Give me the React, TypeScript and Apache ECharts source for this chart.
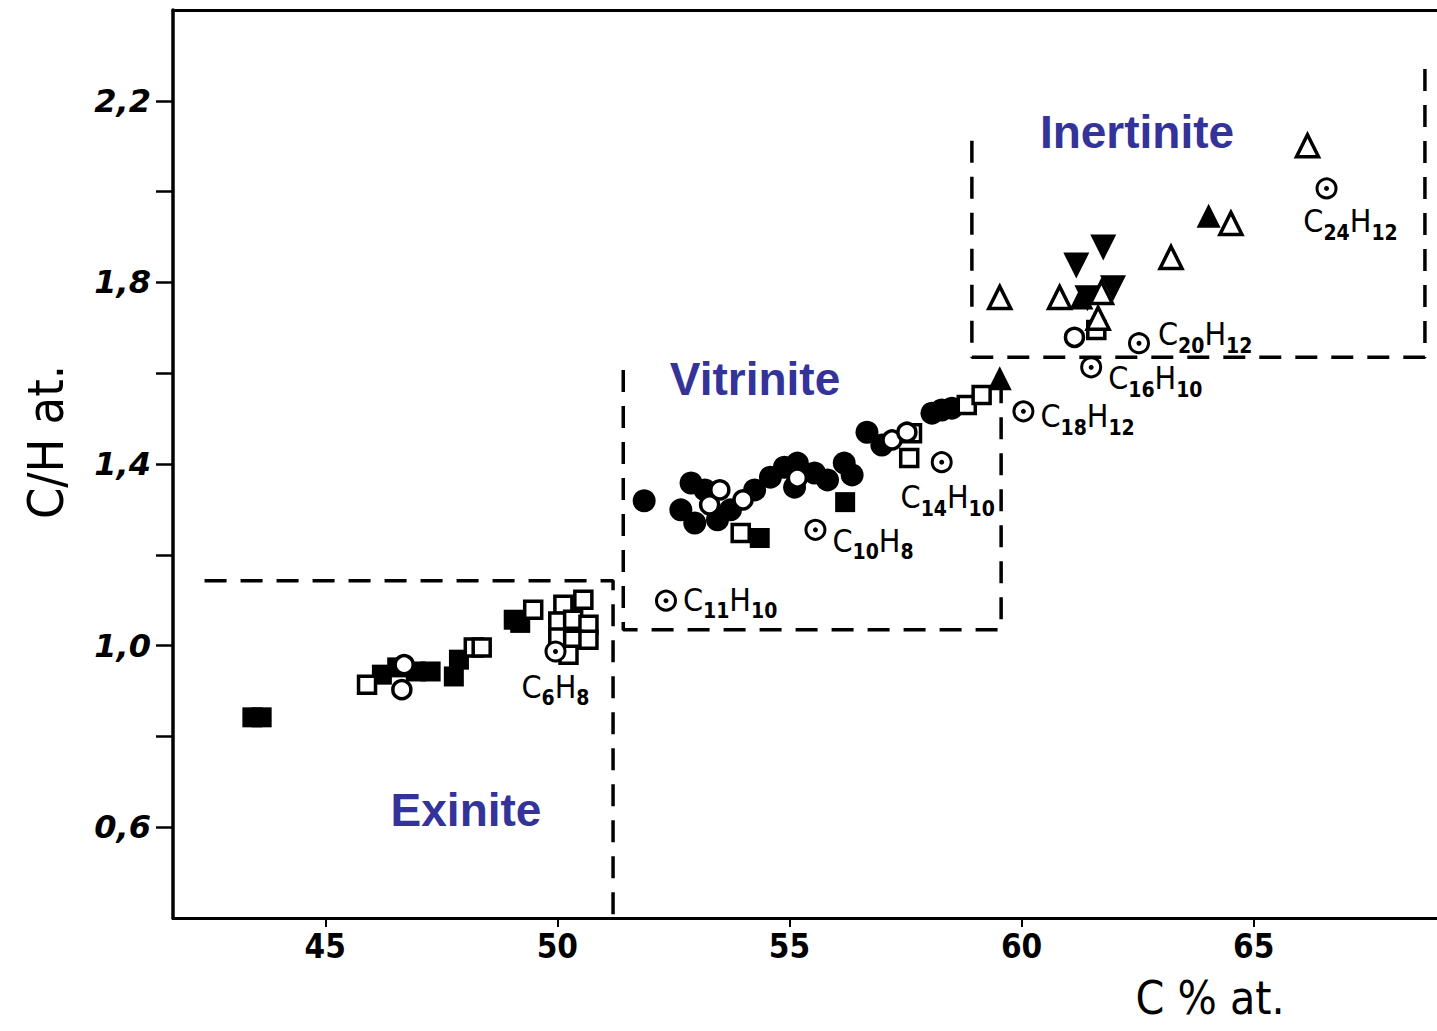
import React, { useEffect, useRef } from "react";
import * as echarts from "echarts";

// ---- data (C % at., C/H at.) ----
const filledSquares: number[][] = [
  [43.43, 0.842], [43.63, 0.842], [46.22, 0.936], [46.55, 0.952], [46.95, 0.943],
  [47.27, 0.943], [47.77, 0.932], [47.88, 0.969], [49.06, 1.057], [49.2, 1.05],
  [54.36, 1.237], [56.2, 1.316],
];
const openSquares: number[][] = [
  [45.9, 0.914], [48.2, 0.996], [48.37, 0.996], [49.48, 1.079],
  [50.13, 1.09], [50.56, 1.101], [50.02, 1.053], [50.34, 1.057], [50.67, 1.046],
  [50.02, 1.018], [50.34, 1.013], [50.67, 1.013], [50.24, 0.98],
  [53.95, 1.248], [57.58, 1.413], [57.64, 1.468], [58.82, 1.53], [59.14, 1.552],
  [61.61, 1.695],
];
const filledCircles: number[][] = [
  [51.87, 1.319], [52.88, 1.358], [52.66, 1.299], [53.18, 1.343], [52.96, 1.27],
  [53.45, 1.277], [53.73, 1.299], [54.25, 1.343], [54.59, 1.371], [54.89, 1.393],
  [55.17, 1.402], [55.11, 1.349], [55.54, 1.38], [55.82, 1.365], [56.18, 1.402],
  [56.35, 1.376], [56.67, 1.47], [56.99, 1.442], [58.07, 1.512], [58.28, 1.519],
  [58.5, 1.523],
];
const openCircles: number[][] = [
  [46.65, 0.903], [46.7, 0.958], [53.28, 1.31], [53.5, 1.343], [54.0, 1.321],
  [55.17, 1.369], [57.21, 1.453], [57.53, 1.47], [61.14, 1.679],
];
const filledTriangles: number[][] = [
  [59.53, 1.589], [61.29, 1.767], [64.03, 1.947],
];
const openTriangles: number[][] = [
  [59.53, 1.767], [60.82, 1.767], [61.72, 1.778], [61.65, 1.721], [63.22, 1.855],
  [64.51, 1.93], [66.16, 2.101],
];
const invertedTriangles: number[][] = [
  [61.76, 1.877], [61.18, 1.837], [61.97, 1.787], [61.42, 1.765],
];
// reference hydrocarbons
const refNames = ["C6H8", "C11H10", "C10H8", "C14H10", "C18H12", "C16H10", "C20H12", "C24H12"];
const refX = [49.96, 52.34, 55.56, 58.28, 60.04, 61.5, 62.53, 66.57];
const refY = [0.987, 1.099, 1.255, 1.404, 1.516, 1.613, 1.666, 2.007];

// maceral field boundaries (dashed)
const exiniteBox: number[][] = [[42.4, 1.143], [51.2, 1.143], [51.2, 0.4]];
const vitriniteBox: number[][] = [[51.42, 1.607], [51.42, 1.035], [59.56, 1.035], [59.56, 1.58]];
const inertiniteBox: number[][] = [[58.93, 2.112], [58.93, 1.635], [68.69, 1.635], [68.69, 2.277]];

const xTickValues = [45, 50, 55, 60, 65];
const yTickValues = [0.6, 0.8, 1.0, 1.2, 1.4, 1.6, 1.8, 2.0, 2.2];
const yLabelValues = [0.6, 1.0, 1.4, 1.8, 2.2];

const fieldNames = ["Inertinite", "Vitrinite", "Exinite"];

// label placement for the reference compounds (style only)
const refLabelPlacement: Record<string, { position: string; offset: number[] }> = {
  C6H8: { position: "bottom", offset: [0, 2] },
  C11H10: { position: "right", offset: [0, 2] },
  C10H8: { position: "right", offset: [0, 14] },
  C14H10: { position: "bottom", offset: [6, 2] },
  C18H12: { position: "right", offset: [0, 8] },
  C16H10: { position: "right", offset: [0, 14] },
  C20H12: { position: "right", offset: [2, -6] },
  C24H12: { position: "bottom", offset: [24, 0] },
};

function toRich(formula: string): string {
  return formula.replace(/([A-Z][a-z]?)|(\d+)/g, (m, el, num) =>
    el ? `{c|${el}}` : `{s|${num}}`
  );
}

const HAND = "'DejaVu Sans Condensed', 'DejaVu Sans', sans-serif";

export default function App() {
  const ref = useRef<HTMLDivElement>(null);
  useEffect(() => {
    if (!ref.current) return;
    const chart = echarts.init(ref.current, undefined, { renderer: "svg" });

    const dashed = { color: "#000", width: 3.5, type: [22, 14] as any };
    const boxSeries = [exiniteBox, vitriniteBox, inertiniteBox].map((d) => ({
      type: "line",
      data: d,
      symbol: "none",
      silent: true,
      lineStyle: dashed,
      z: 1,
    }));

    const refData = refNames.map((n, i) => ({
      value: [refX[i], refY[i]],
      name: n,
      label: {
        position: refLabelPlacement[n].position,
        offset: refLabelPlacement[n].offset,
        distance: 6,
      },
    }));

    const openStyle = { color: "#fff", borderColor: "#000", borderWidth: 3.5, opacity: 1 };
    const filledStyle = { color: "#000", opacity: 1 };

    chart.setOption({
      animation: false,
      backgroundColor: "#fff",
      grid: { left: 173, right: 0, top: 10, bottom: 113, containLabel: false },
      xAxis: [
        {
          type: "value",
          min: 41.72,
          max: 68.95,
          axisLine: { show: true, lineStyle: { color: "#000", width: 3 } },
          axisTick: {
            show: true,
            inside: false,
            length: 9,
            lineStyle: { color: "#000", width: 2 },
            customValues: xTickValues,
          },
          axisLabel: {
            customValues: xTickValues,
            color: "#000",
            fontSize: 33,
            fontFamily: HAND,
            fontWeight: "bold",
            margin: 12,
          },
          splitLine: { show: false },
        },
        {
          type: "value",
          position: "top",
          min: 41.72,
          max: 68.95,
          axisLine: { show: true, lineStyle: { color: "#000", width: 3 } },
          axisTick: { show: false },
          axisLabel: { show: false },
          splitLine: { show: false },
        },
      ],
      yAxis: {
        type: "value",
        min: 0.4,
        max: 2.4,
        interval: 0.2,
        axisLine: { show: true, lineStyle: { color: "#000", width: 3.5 } },
        axisTick: {
          show: true,
          length: 17,
          lineStyle: { color: "#000", width: 2.5 },
          customValues: yTickValues,
        },
        axisLabel: {
          customValues: yLabelValues,
          formatter: (v: number) => v.toFixed(1).replace(".", ","),
          color: "#000",
          fontSize: 32,
          fontWeight: "bold",
          fontStyle: "italic",
          fontFamily: "'DejaVu Sans', sans-serif",
          margin: 22,
        },
        splitLine: { show: false },
      },
      series: [
        ...boxSeries,
        { type: "scatter", name: "filledSquares", data: filledSquares, symbol: "rect", symbolSize: 20, itemStyle: filledStyle, z: 3 },
        { type: "scatter", name: "filledCircles", data: filledCircles, symbol: "circle", symbolSize: 23, itemStyle: filledStyle, z: 3 },
        { type: "scatter", name: "filledTriangles", data: filledTriangles, symbol: "triangle", symbolSize: 24, itemStyle: filledStyle, z: 3 },
        { type: "scatter", name: "invertedTriangles", data: invertedTriangles, symbol: "triangle", symbolRotate: 180, symbolSize: 26, itemStyle: filledStyle, z: 3 },
        { type: "scatter", name: "openSquares", data: openSquares, symbol: "rect", symbolSize: 17, itemStyle: openStyle, z: 4 },
        { type: "scatter", name: "openCircles", data: openCircles, symbol: "circle", symbolSize: 18, itemStyle: openStyle, z: 4 },
        { type: "scatter", name: "openTriangles", data: openTriangles, symbol: "triangle", symbolSize: 22, itemStyle: openStyle, z: 4 },
        {
          type: "scatter",
          name: "references",
          data: refData,
          symbol: "circle",
          symbolSize: 19,
          itemStyle: { color: "#fff", borderColor: "#000", borderWidth: 3, opacity: 1 },
          z: 5,
          label: {
            show: true,
            formatter: (p: any) => toRich(p.name),
            color: "#000",
            rich: {
              c: { fontSize: 32, fontFamily: HAND, color: "#000", padding: [0, 0, 6, 0], verticalAlign: "bottom" },
              s: { fontSize: 21, fontFamily: HAND, color: "#000", fontWeight: "bold", verticalAlign: "bottom" },
            },
          },
        },
        {
          type: "scatter",
          name: "referenceDots",
          data: refNames.map((n, i) => [refX[i], refY[i]]),
          symbol: "circle",
          symbolSize: 5,
          itemStyle: filledStyle,
          z: 6,
          silent: true,
        },
      ],
      graphic: [
        {
          type: "text",
          x: 46,
          y: 442,
          rotation: Math.PI / 2,
          style: {
            text: "C/H at.",
            fontSize: 50,
            fontFamily: HAND,
            fill: "#000",
            align: "center",
            verticalAlign: "middle",
          },
        },
        {
          type: "text",
          x: 1210,
          y: 998,
          style: {
            text: "C % at.",
            fontSize: 46,
            fontFamily: HAND,
            fill: "#000",
            align: "center",
            verticalAlign: "middle",
          },
        },
        {
          type: "text",
          x: 1137,
          y: 132,
          style: { text: fieldNames[0], fontSize: 46, fontWeight: "bold", fontFamily: "'Liberation Sans', Arial, sans-serif", fill: "#333399", align: "center", verticalAlign: "middle" },
        },
        {
          type: "text",
          x: 755,
          y: 379,
          style: { text: fieldNames[1], fontSize: 46, fontWeight: "bold", fontFamily: "'Liberation Sans', Arial, sans-serif", fill: "#333399", align: "center", verticalAlign: "middle" },
        },
        {
          type: "text",
          x: 466,
          y: 810,
          style: { text: fieldNames[2], fontSize: 46, fontWeight: "bold", fontFamily: "'Liberation Sans', Arial, sans-serif", fill: "#333399", align: "center", verticalAlign: "middle" },
        },
      ],
    });
    return () => chart.dispose();
  }, []);

  return (
    <div
      ref={ref}
      style={{ position: "fixed", left: 0, top: 0, width: 1437, height: 1031, background: "#fff" }}
    />
  );
}
